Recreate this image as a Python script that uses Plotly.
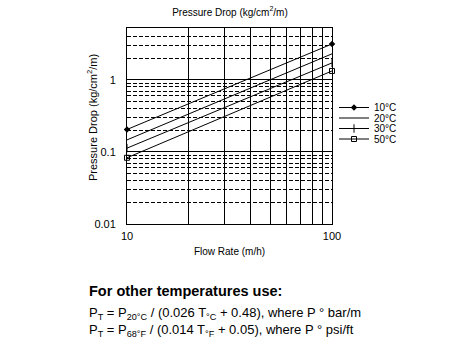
import plotly.graph_objects as go

flow = [10, 100]
series_names = ["10°C", "20°C", "30°C", "50°C"]
drop_10c = [0.205, 3.15]
drop_20c = [0.147, 2.3]
drop_30c = [0.113, 1.72]
drop_50c = [0.083, 1.33]
x_grid = [10, 20, 30, 40, 50, 60, 70, 80, 90, 100]
x_labels = ["10", "", "", "", "", "", "", "", "", "100"]
y_major = [0.01, 0.1, 1]
y_labels = ["0.01", "0.1", "1"]
y_minor = [0.02, 0.03, 0.04, 0.05, 0.06, 0.07, 0.08, 0.09,
           0.2, 0.3, 0.4, 0.5, 0.6, 0.7, 0.8, 0.9, 2, 3, 4]

W, H = 454, 351
L, R, T, B = 127, 332, 28, 224

def px(x):
    return (x - L) / (R - L)

def py(y):
    return (B - y) / (B - T)

FONT = "Liberation Sans, Arial, sans-serif"

fig = go.Figure()
styles = [
    dict(symbol="diamond", size=5),
    dict(symbol="line-ew", size=1),
    dict(symbol="line-ns", size=6, line=dict(width=1, color="black")),
    dict(symbol="square-open", size=5, line=dict(width=1, color="black")),
]
legend_ids = ["legend", "legend2", "legend3", "legend4"]
legend_y = [107.5, 118, 128.5, 139]
for name, vals, st, lg in zip(series_names, [drop_10c, drop_20c, drop_30c, drop_50c], styles, legend_ids):
    fig.add_trace(go.Scatter(
        x=flow, y=vals, name=name, mode="lines+markers",
        line=dict(color="black", width=1),
        marker=dict(color="black", **st),
        cliponaxis=False, legend=lg,
    ))

legend_common = dict(xanchor="left", yanchor="middle", font=dict(size=10),
                     bgcolor="rgba(0,0,0,0)", itemwidth=30)
layout_legends = {}
for lg, yy in zip(legend_ids, legend_y):
    layout_legends[lg] = dict(x=px(334), y=py(yy), **legend_common)

fig.update_layout(
    width=W, height=H,
    margin=dict(l=L, r=W - R, t=T, b=H - B),
    paper_bgcolor="white", plot_bgcolor="white",
    font=dict(family=FONT, size=11, color="black"),
    title=dict(text="Pressure Drop (kg/cm<sup>2</sup>/m)", x=px(230), xref="paper",
               y=1 - 12 / H, yanchor="middle", font=dict(size=10)),
    showlegend=True,
    xaxis=dict(type="log", range=[1, 2], tickvals=x_grid, ticktext=x_labels,
               showgrid=True, gridcolor="black", gridwidth=1,
               showline=True, linecolor="black", linewidth=1, mirror=True,
               ticks="", tickfont=dict(size=11), ticklabelstandoff=2,
               title=dict(text="Flow Rate (m/h)", font=dict(size=10), standoff=6),
               zeroline=False),
    yaxis=dict(type="log", range=[-2, 0.72], tickvals=y_major, ticktext=y_labels,
               showgrid=True, gridcolor="black", gridwidth=1,
               showline=True, linecolor="black", linewidth=1, mirror=True,
               ticks="", tickfont=dict(size=11), ticklabelstandoff=8,
               minor=dict(tickvals=y_minor, showgrid=True, gridcolor="black",
                          gridwidth=1, griddash="4px,2px", ticks=""),
               zeroline=False),
    **layout_legends,
)

fig.add_annotation(text="Pressure Drop (kg/cm<sup>2</sup>/m)", xref="paper", yref="paper",
                   x=px(92), y=py(118), xanchor="center", yanchor="middle", textangle=-90,
                   showarrow=False, font=dict(size=11, family=FONT))
fig.add_annotation(text="<b>For other temperatures use:</b>", xref="paper", yref="paper",
                   x=px(87), y=py(291), xanchor="left", yanchor="middle",
                   showarrow=False, font=dict(size=14.5, family=FONT))
fig.add_annotation(text="P<sub>T</sub> = P<sub>20°C</sub> / (0.026 T<sub>°C</sub> + 0.48), where P ° bar/m",
                   xref="paper", yref="paper", x=px(87), y=py(313), xanchor="left", yanchor="middle",
                   showarrow=False, font=dict(size=13, family=FONT))
fig.add_annotation(text="P<sub>T</sub> = P<sub>68°F</sub> / (0.014 T<sub>°F</sub> + 0.05), where P ° psi/ft",
                   xref="paper", yref="paper", x=px(87), y=py(330), xanchor="left", yanchor="middle",
                   showarrow=False, font=dict(size=13, family=FONT))

fig.write_html("out.html")
